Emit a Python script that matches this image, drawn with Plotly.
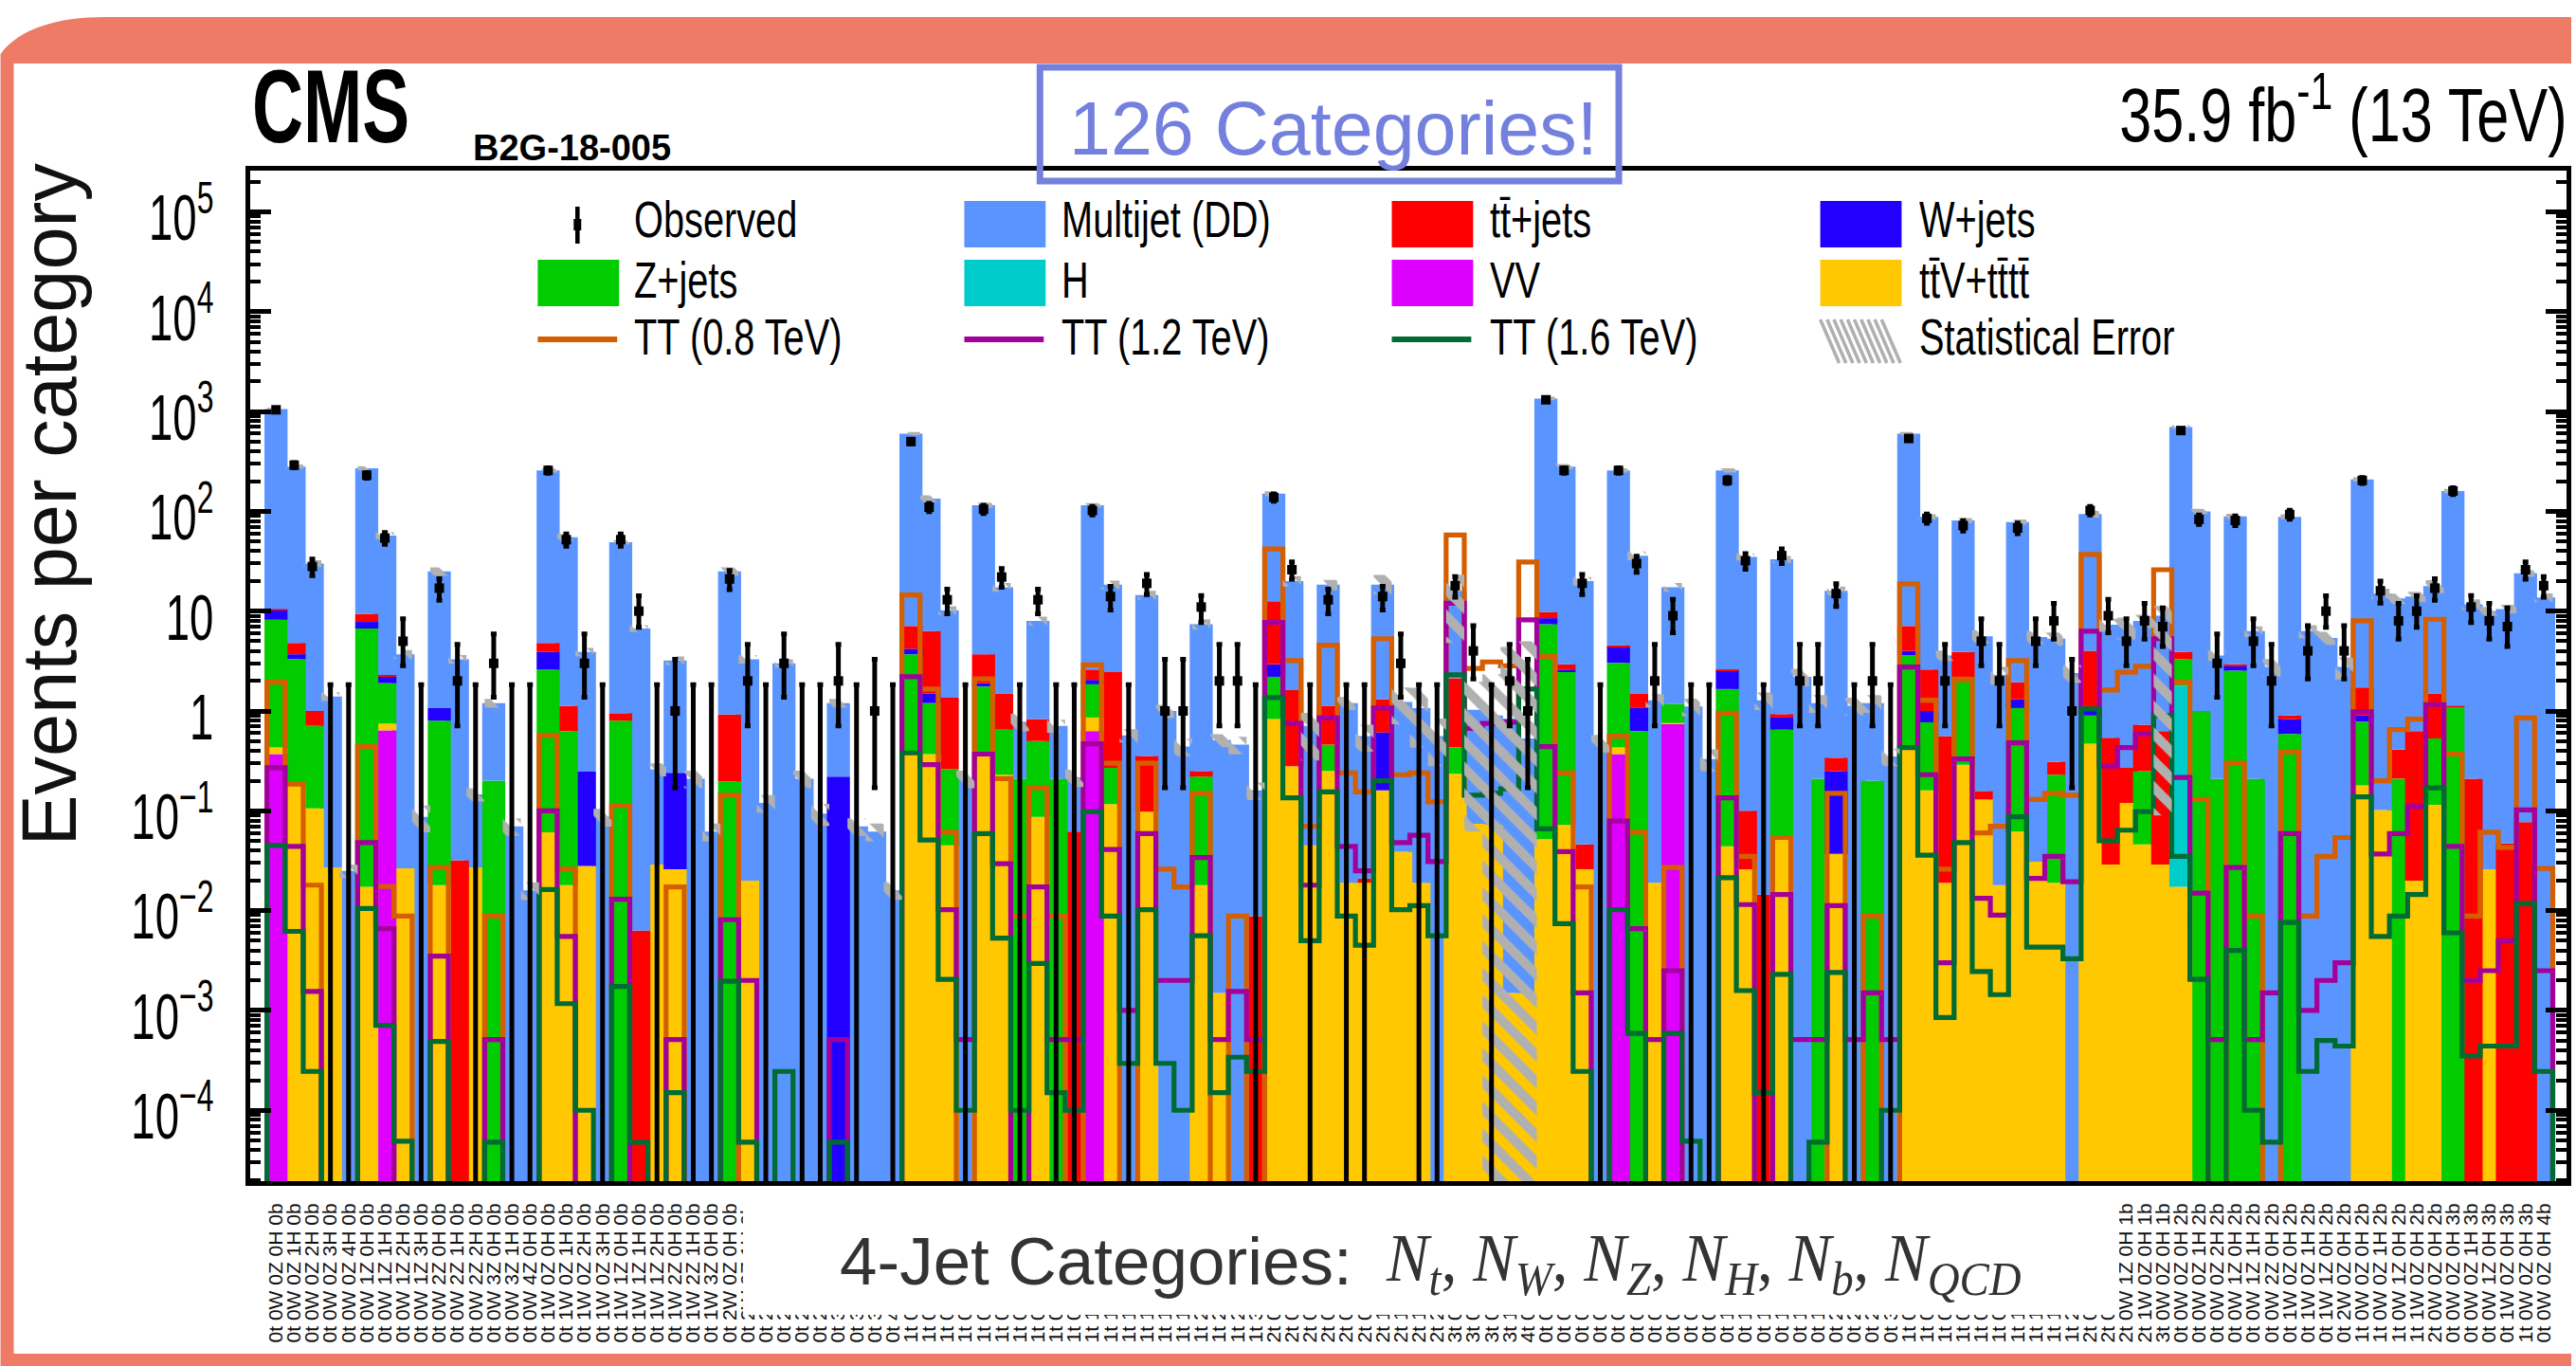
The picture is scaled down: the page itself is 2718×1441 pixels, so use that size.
import json
import plotly.graph_objects as go

# ---------- data (stack values are cumulative heights, 0 = component absent) ----------
VV_TOP = [.37,0,0,0,0,0,.64,0,0,0]+[0]*10+[0]*10+[0]*10+[0,0,0,0,0,.63,0,0,0,0]+[0]*10+[0]*10+[0,0,0,0,.37,0,0,.75,0,0]+[0]*46
TTV_TOP = [.43,.18,.106,.027,0,.0173,.75,.0265,0,.018,
 0,.027,0,0,0,.061,.018,.028,0,0,
 0,.029,.026,0,0,0,.02,0,0,0,
 0,0,0,0,0,.39,.37,.045,0,.39,
 .23,0,.087,0,0,.86,.117,0,.098,0,
 0,.018,.0015,0,0,.83,.28,.045,.25,.019,
 .019,.16,.039,.019,0,.235,.074,.072,.0015,.0015,
 .052,.072,.026,0,.43,0,.019,.76,0,0,
 .044,.026,0,.055,0,0,.037,0,0,0,
 .41,.16,.019,.29,.13,.018,.062,.031,.019,0,
 .47,.029,.12,.046,.029,.0173,0,0,0,0,
 0,0,0,0,0,.18,.102,0,.02,.115,
 0,0,.026,0,0,0]
H_TOP = [0]*105+[1.78]+[0]*20
Z_TOP = [8.2,3.3,.71,0,0,6.7,1.9,0,0,.8,
 0,0,.2,0,0,2.6,.63,0,0,.8,
 0,0,0,0,0,.197,0,0,0,0,
 0,0,0,0,0,3.7,1.2,.26,0,1.76,
 .65,.21,.5,.21,0,1.85,.27,0,0,0,
 0,.22,0,0,0,2.2,0,0,.46,0,
 0,0,0,0,0,.43,0,0,0,0,
 7.4,2.45,0,0,3.04,.63,0,1.18,0,0,
 1.66,0,0,.65,0,.21,0,0,.2,0,
 3.6,.77,0,2.2,0,0,1.07,0,.23,0,
 .9,0,0,.25,0,3.3,1.0,.21,2.54,.21,
 0,.59,0,0,0,.78,0,.21,0,.53,
 1.1,0,0,0,0,0]
W_TOP = [10.2,3.7,0,0,0,7.8,2.2,0,0,1.07,
 0,0,0,0,0,3.9,0,.25,0,0,
 0,0,.24,0,0,0,0,0,0,0,
 0,.22,0,0,0,4.2,1.5,0,0,1.9,
 0,0,0,0,0,2.05,0,0,0,0,
 0,0,0,0,0,2.93,0,0,0,0,
 0,.61,0,0,0,0,0,0,0,0,
 8.5,2.6,0,0,4.4,1.07,0,0,0,0,
 2.55,0,0,.86,0,0,.25,0,0,0,
 4.0,1.0,0,0,0,0,1.31,0,0,0,
 1.07,0,0,0,0,0,0,0,2.8,0,
 0,.83,0,0,0,.9,0,0,0,0,
 0,0,0,0,0,0]
TT_TOP = [10.5,4.8,1.0,0,0,9.4,2.3,0,0,0,
 .032,0,0,0,0,4.8,1.12,0,0,.95,
 .0063,0,0,0,0,.92,0,0,0,0,
 0,0,0,0,0,7.1,6.3,1.36,0,3.7,
 1.5,0,.83,0,.062,2.6,2.45,0,.355,0,
 0,.25,0,0,.0088,12.6,1.62,0,1.13,0,
 .021,1.31,0,0,0,2.13,0,0,0,0,
 9.8,2.93,.046,0,4.55,1.5,0,0,0,0,
 2.6,.1,.0145,.93,0,0,.34,0,0,0,
 7.1,2.6,.56,3.9,.158,0,1.94,0,.31,0,
 4.0,.54,.27,.73,.63,3.9,0,0,2.93,0,
 0,.9,0,0,0,1.72,0,.41,.63,1.5,
 1.12,.21,0,.047,.077,0]
QCD_TOP = [1060,281,30,1.4,.025,270,57,3.7,.087,25,
 3.3,.146,1.2,.07,.016,257,55,3.9,.087,49,
 6.7,.26,3.2,.21,.062,25,3.3,.12,3,.21,
 .094,1.2,.07,.062,.016,600,134,10.2,.21,115,
 17.4,.78,8,.71,.216,115,18.4,.57,14.5,1.0,
 .44,7.4,.51,.46,.16,150,20,.71,18.4,1.2,
 .56,18.4,1.23,1.07,.56,16,1.03,.9,.84,.53,
 1350,281,20,.48,257,36,1.28,17.4,1.11,.33,
 257,35,1.28,33,2.2,1.2,16,1.13,1.2,.35,
 600,88,3.6,81,5.6,2.3,78,5.5,5.3,2.4,
 94,7.3,6.9,8,9,700,100,3.6,89,6.3,
 2.76,88,6.3,5.4,2.76,209,15,13.4,14,17.8,
 160,11.7,10,10.5,24,13.7]
TT08 = [1.94,.185,.018,0,0,.44,.0175,.0088,0,.027,
 0,0,.0088,0,0,.57,.026,0,0,.113,
 0,0,.0173,0,0,.143,0,0,0,0,
 0,0,0,0,0,14.5,1.66,.061,0,2.1,
 .21,.0088,.17,.0088,0,2.9,.3,0,.3,.026,
 .0173,.15,0,.0088,0,42,3.2,.07,4.55,.24,
 .155,5.3,.23,.24,.123,58,2.67,3.1,2.83,31,
 3.5,.24,.0173,0,.56,.061,0,.027,0,0,
 .95,.035,0,.054,0,0,.15,0,.0088,0,
 18.8,1.28,.026,2.05,.06,.07,3.2,.13,.15,.143,
 37,1.62,2.45,2.8,26,1.94,.13,0,.3,.0088,
 0,.39,.0088,.035,.054,8,.2,.65,.83,8.3,
 .37,.0088,.061,.043,.85,.0265]
TT12 = [.27,.044,.00155,0,0,.048,.0066,0,0,.0035,
 0,0,5.1e-4,0,0,.1,.0055,0,0,.013,
 0,0,5.1e-4,0,0,.0081,.002,0,0,0,
 0,5.1e-4,0,0,0,2.2,.29,.0102,5.1e-4,.37,
 .0295,0,.0173,5.1e-4,5.1e-4,.47,.041,.001,.059,.002,
 .002,.034,5.1e-4,.00155,5.1e-4,7.7,.75,.018,.85,.044,
 .025,1.07,.048,.057,.031,12,.67,.75,.77,8.2,
 .44,.039,.0015,0,.079,.0066,5.1e-4,.0025,0,0,
 .135,.0115,0,.0145,5.1e-4,5.1e-4,.0112,5.1e-4,.0015,5.1e-4,
 2.76,.23,.003,.33,.0133,.009,.48,.021,.035,.0195,
 6.3,.28,.43,.59,5.3,.216,.015,5.1e-4,.027,5.1e-4,
 .0015,.059,.001,.002,.003,.98,.037,.059,.11,1.16,
 .044,.002,.0025,.005,.102,.0025]
TT16 = [.045,.0062,2.45e-4,0,0,.0105,7.1e-4,4.9e-5,0,4.9e-4,
 0,0,4.8e-5,0,0,.0163,.00117,1e-4,0,.00174,
 4.8e-5,0,1.5e-4,0,0,.00196,4.8e-5,0,2.45e-4,0,
 0,4.8e-5,0,0,0,.38,.051,.00205,1e-4,.059,
 .0053,1e-4,.00295,1.5e-4,1e-4,.098,.0088,2.95e-4,.0102,2.95e-4,
 1e-4,.0056,1.5e-4,3.4e-4,2.45e-4,1.36,.135,.005,.155,.0088,
 .0045,.2,.0102,.0112,.0056,2.3,.143,.15,.166,1.66,
 .066,.0074,2.45e-4,0,.0102,5.9e-4,0,5.9e-4,4.9e-5,0,
 .0214,.00158,1.5e-4,.0023,0,4.8e-5,.0024,0,0,1e-4,
 .43,.036,8.5e-4,.048,.00245,.00144,.087,.0043,.0043,.0033,
 1.05,.05,.064,.098,.9,.035,.00205,0,.004,1e-4,
 4.8e-5,.0076,2.45e-4,5e-4,4.4e-4,.138,.0055,.0088,.0145,.17,
 .006,3.5e-4,4.4e-4,4.4e-4,.0118,2.45e-4]
OBSERVED = [1040,290,28,0,0,230,54,5,0,17,
 2,0,3,0,0,257,52,3,0,52,
 10,0,1,0,0,21,2,0,3,0,
 0,2,0,1,0,500,110,13,0,105,
 22,0,13,0,0,102,14,0,19,1,
 1,11,2,2,0,138,26,0,13,0,
 0,14,3,0,0,18,4,0,2,1,
 1310,257,19,0,257,30,2,9,0,0,
 204,32,0,36,2,2,15,0,2,0,
 537,85,2,72,5,2,68,5,8,1,
 102,9,5,8,7,645,83,3,81,5,
 2,93,4,10,4,204,16,8,10,17,
 160,11,8,7,26,18]
STAT_UP = [.03,.05,.08,.1,.15,.05,.08,.1,.3,.1,
 .1,.15,.1,.2,.2,.05,.08,.1,.2,.05,
 .08,.15,.1,.2,.2,.1,.1,.2,.1,.2,
 .25,.1,.2,.2,.2,.04,.08,.1,.2,.06,
 .1,.2,.1,.15,.2,.05,.1,.15,.1,.15,
 .2,.12,.15,.2,.2,.06,.12,.35,.12,.15,
 .3,.25,.4,.6,.5,.45,.9,1.6,4.2,8.4,
 .04,.06,.1,.2,.05,.1,.15,.1,.2,.25,
 .05,.08,.2,.08,.2,.2,.1,.2,.2,.2,
 .04,.06,.12,.06,.15,.2,.06,.15,.15,.2,
 .08,.15,.25,.15,.25,.04,.06,.12,.06,.12,
 .2,.06,.15,.15,.25,.05,.12,.12,.12,.15,
 .05,.12,.1,.1,.08,.1]
STAT_DOWN = [.03,.05,.08,.1,.15,.05,.08,.1,.3,.1,
 .1,.15,.1,.2,.2,.05,.08,.1,.2,.05,
 .08,.15,.1,.2,.2,.1,.1,.2,.1,.2,
 .25,.1,.2,.2,.2,.04,.08,.1,.2,.06,
 .1,.2,.1,.15,.2,.05,.1,.15,.1,.15,
 .2,.12,.15,.2,.2,.06,.12,.55,.12,.15,
 .3,.2,.4,.6,.5,.7,.94,1,1,1,
 .04,.06,.1,.2,.05,.1,.15,.1,.2,.25,
 .05,.08,.2,.08,.2,.2,.1,.2,.2,.2,
 .04,.06,.12,.06,.15,.2,.06,.15,.15,.2,
 .08,.15,.25,.15,.99,.04,.06,.12,.06,.12,
 .2,.06,.15,.15,.25,.05,.12,.12,.12,.15,
 .05,.12,.1,.1,.08,.1]
POISSON_ERR = {0:(0,1.84),1:(.83,2.3),2:(1.29,2.64),3:(1.63,2.92),4:(1.91,3.16),5:(2.16,3.38),6:(2.38,3.58),
               7:(2.58,3.77),8:(2.77,3.95),9:(2.94,4.11),10:(3.11,4.26)}
Y_TICK_VALUES = [1e5,1e4,1e3,1e2,10,1,.1,.01,.001,1e-4]
Y_TICK_TEXT = ["10<sup>5</sup>","10<sup>4</sup>","10<sup>3</sup>","10<sup>2</sup>","10","1",
               "10<sup>\u22121</sup>","10<sup>\u22122</sup>","10<sup>\u22123</sup>","10<sup>\u22124</sup>"]
STACK_ORDER = [("VV",VV_TOP,"#dd00ff"),("ttV",TTV_TOP,"#ffc800"),("H",H_TOP,"#00cccc"),("Z",Z_TOP,"#00cc00"),
               ("W",W_TOP,"#2200ff"),("tt",TT_TOP,"#ff0000"),("QCD",QCD_TOP,"#5a94ff")]
SIGNALS = [("TT (0.8 TeV)",TT08,"#d55e00"),("TT (1.2 TeV)",TT12,"#a3009b"),("TT (1.6 TeV)",TT16,"#006b33")]

# category labels: Nt, NW, NZ, NH, Nb with a total of at most 4 objects
CATEGORIES = []
for nb in range(5):
    for nt in range(5-nb):
        for nw in range(5-nb-nt):
            for nz in range(5-nb-nt-nw):
                for nh in range(5-nb-nt-nw-nz):
                    CATEGORIES.append(f"{nt}t {nw}W {nz}Z {nh}H {nb}b")
N = len(CATEGORIES)

W_PX, H_PX = 2718, 1441
L, R, T, B = 264, 2713, 180, 1246
SANS = "Liberation Sans"
FLOOR = 1e-6
def px(x): return (x-L)/(R-L)
def py(y): return (B-y)/(B-T)

# each bin's stack is one unit, taller bins overlap their neighbours
sx, sbase, ssize, scol = [], [], [], []
for i in sorted(range(N), key=lambda k: QCD_TOP[k]):
    prev = FLOOR
    for name, arr, col in STACK_ORDER:
        if arr[i] > prev:
            sx.append(i); sbase.append(prev); ssize.append(arr[i]-prev); scol.append(col)
            prev = arr[i]

fig = go.Figure()
fig.add_trace(go.Bar(x=sx, y=ssize, base=sbase, width=1.27, marker=dict(color=scol, line=dict(width=0)),
                     name="Background stack", showlegend=False))
for name, vals, col in SIGNALS:
    xs, ys = [-0.5], [FLOOR]
    for i, v in enumerate(vals):
        v = max(v, FLOOR)
        xs += [i-0.5, i+0.5]; ys += [v, v]
    xs.append(N-0.5); ys.append(FLOOR)
    fig.add_trace(go.Scatter(x=xs, y=ys, mode="lines", name=name, showlegend=False,
                             line=dict(color=col, width=5.2, simplify=False)))
# statistical-error band, hatched, above the signal lines
low = [max(q*(1-d), FLOOR) for q, d in zip(QCD_TOP, STAT_DOWN)]
high = [q*(1+u) for q, u in zip(QCD_TOP, STAT_UP)]
hx, hy = [], []
for i in range(N):
    hx += [i-0.5, i+0.5, i+0.5, i-0.5, i-0.5, None]
    hy += [low[i], low[i], high[i], high[i], low[i], None]
fig.add_trace(go.Scatter(x=hx, y=hy, mode="lines", fill="toself", fillcolor="rgba(0,0,0,0)",
                         name="Statistical Error", showlegend=False, line=dict(width=0, color="rgba(0,0,0,0)"),
                         fillpattern=dict(shape="\\", fgcolor="#b0b0b0", bgcolor="rgba(0,0,0,0)", fgopacity=1,
                                          size=20, solidity=0.5), connectgaps=False))
def err(n):
    if n in POISSON_ERR: return POISSON_ERR[n]
    return (n**0.5, n**0.5)
fig.add_trace(go.Scatter(x=list(range(N)), y=[o if o > 0 else 1e-9 for o in OBSERVED], mode="markers",
                         name="Observed", showlegend=False,
                         marker=dict(symbol="square", size=10, color="black"),
                         error_y=dict(type="data", symmetric=False, array=[err(o)[1] for o in OBSERVED],
                                      arrayminus=[err(o)[0] for o in OBSERVED], thickness=5, width=3, color="black")))

shapes = []
p = lambda x, y: f"{px(x):.5f},{py(y):.5f}"
frame = (f"M {p(0,57)} C {p(20,30)} {p(60,18)} {p(110,18)} L {p(2718,18)} L {p(2718,67)} L {p(14,67)} "
         f"L {p(14,1428)} L {p(2718,1428)} L {p(2718,1441)} L {p(0,1441)} Z")
shapes.append(dict(type="path", path=frame, xref="paper", yref="paper", fillcolor="#ee7b66", line=dict(width=0), layer="below"))
shapes.append(dict(type="rect", xref="paper", yref="paper", x0=px(785), x1=px(2240), y0=py(1387), y1=py(1269),
                   fillcolor="white", line=dict(width=0), layer="above"))
shapes.append(dict(type="rect", xref="paper", yref="paper", x0=px(1099), x1=px(1711), y0=py(191), y1=py(71),
                   fillcolor="rgba(0,0,0,0)", line=dict(color="#7480de", width=7), layer="above"))
def swatch(x0, y0, col):
    shapes.append(dict(type="rect", xref="paper", yref="paper", x0=px(x0), x1=px(x0+86), y0=py(y0+49), y1=py(y0),
                       fillcolor=col, line=dict(width=0), layer="above"))
def legline(x0, col):
    shapes.append(dict(type="line", xref="paper", yref="paper", x0=px(x0), x1=px(x0+84), y0=py(358), y1=py(358),
                       line=dict(color=col, width=6), layer="above"))
COL = [568, 1019, 1471, 1924]
TXT = [668, 1120, 1573, 2027]
swatch(COL[1], 212, "#5a94ff"); swatch(COL[2], 212, "#ff0000"); swatch(COL[3], 212, "#2200ff")
swatch(COL[0], 274, "#00cc00"); swatch(COL[1], 274, "#00cccc"); swatch(COL[2], 274, "#dd00ff"); swatch(COL[3], 274, "#ffc800")
legline(COL[0], "#d55e00"); legline(COL[1], "#a3009b"); legline(COL[2], "#006b33")
for k in range(10):
    x0 = COL[3]+k*7.2
    shapes.append(dict(type="line", xref="paper", yref="paper", x0=px(x0), x1=px(x0+20), y0=py(337), y1=py(383),
                       line=dict(color="#b0b0b0", width=3.6), layer="above"))
shapes.append(dict(type="line", xref="paper", yref="paper", x0=px(610), x1=px(610), y0=py(218), y1=py(257),
                   line=dict(color="black", width=4.6), layer="above"))
shapes.append(dict(type="rect", xref="paper", yref="paper", x0=px(606), x1=px(614), y0=py(243), y1=py(231),
                   fillcolor="black", line=dict(width=0), layer="above"))

anns = []
def text(x, y, s, size, family=SANS, color="black", anchor="left", angle=0):
    anns.append(dict(xref="paper", yref="paper", x=px(x), y=py(y), text=s, showarrow=False, xanchor=anchor,
                     yanchor="middle", textangle=angle, font=dict(family=family, size=size, color=color)))
TB = "t\u0304"
legend_rows = [(231, ["Observed", "Multijet (DD)", f"t{TB}+jets", "W+jets"]),
               (295, ["Z+jets", "H", "VV", f"t{TB}V+t{TB}t{TB}"]),
               (355, ["TT (0.8 TeV)", "TT (1.2 TeV)", "TT (1.6 TeV)", "Statistical Error"])]
for y, row in legend_rows:
    for x, s in zip(TXT, row):
        text(x, y, s, 53)
text(264, 112, "<b>CMS</b>", 110)
text(497, 156, "<b>B2G-18-005</b>", 38)
text(2716, 115, "35.9 fb<sup>-1</sup> (13 TeV)", 80, anchor="right")
text(1128, 135, "126 Categories!", 79, color="#7480de")
text(52, 532, "Events per category", 81, color="#111111", anchor="center", angle=-90)
text(885, 1330, "4-Jet Categories:", 71, color="#333333")
text(1462, 1332, "<i>N<sub>t</sub></i>, <i>N<sub>W</sub></i>, <i>N<sub>Z</sub></i>, <i>N<sub>H</sub></i>, <i>N<sub>b</sub></i>, <i>N<sub>QCD</sub></i>",
     72, family="Liberation Serif", color="#333333")

fig.update_layout(width=W_PX, height=H_PX, autosize=False, margin=dict(l=L, r=W_PX-R, t=T, b=H_PX-B, pad=0),
                  paper_bgcolor="white", plot_bgcolor="white", barmode="overlay", showlegend=False,
                  shapes=shapes, annotations=anns, font=dict(family=SANS, color="black"))
fig.update_xaxes(range=[-1.423, 126.26], tickmode="array", tickvals=list(range(N)), ticktext=CATEGORIES,
                 tickangle=-90, tickfont=dict(family=SANS, size=21, color="#111111"), ticks="", showgrid=False,
                 zeroline=False, showline=True, linecolor="black", linewidth=5, mirror=True, ticklabelstandoff=10)
minor_vals = [m*10.0**e for e in range(-5, 6) for m in range(2, 10)]
fig.update_yaxes(type="log", range=[-4.71, 5.413], tickmode="array", tickvals=Y_TICK_VALUES, ticktext=Y_TICK_TEXT,
                 tickfont=dict(family=SANS, size=68, color="black"), ticks="inside", ticklen=22, tickwidth=5,
                 tickcolor="black", showgrid=False, zeroline=False, showline=True, linecolor="black", linewidth=5,
                 mirror="ticks",
                 minor=dict(ticks="inside", ticklen=11, tickwidth=4, tickcolor="black",
                            tickmode="array", tickvals=minor_vals, showgrid=False))

# the reference's Helvetica labels are horizontally condensed: x-scale, anchored side, x-shift per text
CONDENSED = {**{s: [0.75, False, 0] for _, row in legend_rows for s in row},
             "CMS": [0.68, False, 0], "35.9 fb-1 (13 TeV)": [0.765, True, 0],
             "Nt, NW, NZ, NH, Nb, NQCD": [0.93, False, 0]}
post = """
document.body.style.margin='0';document.documentElement.style.overflow='hidden';
(function(){
 var T=%s;
 function sq(el,s,right,dx,dy){var b=el.getBBox();var ax=right?b.x+b.width:b.x;var o=el.getAttribute('transform')||'';
  el.setAttribute('transform','translate('+(ax+(dx||0))+','+(dy||0)+') scale('+s+',1) translate('+(-ax)+',0) '+o);}
 document.querySelectorAll('.annotation-text').forEach(function(el){
  var t=el.textContent.replace(/\\u200b/g,'');if(T[t]){sq(el,T[t][0],T[t][1],T[t][2]);}});
 document.querySelectorAll('.ytick text').forEach(function(el){sq(el,0.67,true,-20,6);});
})();
""" % json.dumps(CONDENSED)
fig.write_html("out.html", post_script=post, config={"displayModeBar": False})
